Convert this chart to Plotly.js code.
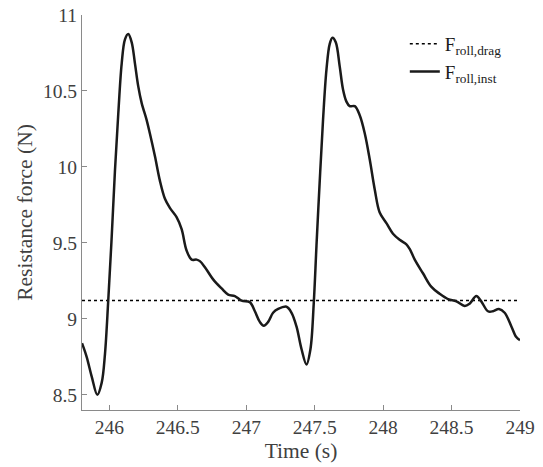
<!DOCTYPE html>
<html>
<head>
<meta charset="utf-8">
<script src="https://cdn.plot.ly/plotly-3.0.1.min.js"></script>
<style>html,body{margin:0;padding:0;background:#fff;}#chart{width:543px;height:467px;}</style>
</head>
<body>
<div id="chart"></div>
<script>
const timeS = [245.8,245.834,245.871,245.912,245.944,245.968,245.992,246.017,246.041,246.065,246.09,246.114,246.138,246.163,246.187,246.211,246.236,246.272,246.296,246.333,246.369,246.406,246.442,246.491,246.528,246.564,246.601,246.637,246.661,246.698,246.758,246.82,246.868,246.917,246.966,247.026,247.063,247.099,247.128,247.16,247.196,247.233,247.294,247.331,247.367,247.404,247.44,247.469,247.493,247.513,247.537,247.561,247.586,247.61,247.63,247.654,247.683,247.707,247.732,247.756,247.793,247.829,247.866,247.902,247.939,247.975,248.024,248.072,248.121,248.17,248.194,248.231,248.291,248.353,248.413,248.474,248.535,248.596,248.632,248.681,248.717,248.766,248.802,248.846,248.888,248.937,248.973,249.0];
const rollInst = [8.84,8.75,8.62,8.5,8.58,8.77,9.125,9.54,9.98,10.35,10.68,10.84,10.875,10.82,10.68,10.53,10.42,10.31,10.22,10.07,9.91,9.79,9.73,9.67,9.59,9.45,9.39,9.39,9.38,9.34,9.26,9.2,9.16,9.15,9.12,9.11,9.05,8.98,8.955,8.98,9.04,9.065,9.08,9.04,8.95,8.8,8.7,8.8,9.1,9.48,9.91,10.31,10.64,10.81,10.85,10.82,10.66,10.51,10.43,10.4,10.4,10.34,10.22,10.05,9.85,9.7,9.63,9.56,9.52,9.49,9.46,9.39,9.3,9.21,9.165,9.13,9.115,9.085,9.1,9.15,9.115,9.05,9.05,9.065,9.04,8.95,8.88,8.86];
const dragTime = [245.8, 249.0];
const rollDrag = [9.12, 9.12];
const xTicks = [246,246.5,247,247.5,248,248.5,249];
const yTicks = [8.5,9,9.5,10,10.5,11];

const font = '"Liberation Serif", serif';
const traces = [
  {x: dragTime, y: rollDrag, mode: 'lines', name: 'F<sub>roll,drag</sub>',
   line: {color: '#000', width: 1.5, dash: 'dot'}},
  {x: timeS, y: rollInst, mode: 'lines', name: 'F<sub>roll,inst</sub>',
   line: {color: '#1a1a1a', width: 2.5, shape: 'spline', smoothing: 1}}
];
const axisCommon = {
  showgrid: false, zeroline: false, showline: true, linecolor: '#8a8a8a', linewidth: 1,
  ticks: 'inside', ticklen: 5, tickcolor: '#8a8a8a', tickwidth: 1,
  tickfont: {family: font, size: 19.5, color: '#404040'}
};
const layout = {
  width: 543, height: 467,
  margin: {l: 82, r: 23, t: 15, b: 57},
  paper_bgcolor: '#fff', plot_bgcolor: '#fff',
  font: {family: font, color: '#404040', size: 18},
  xaxis: Object.assign({}, axisCommon, {
    range: [245.8, 249], tickvals: xTicks, ticktext: xTicks.map(String),
    title: {text: 'Time (s)', font: {family: font, size: 21.5, color: '#404040'}, standoff: 5}
  }),
  yaxis: Object.assign({}, axisCommon, {
    range: [8.4, 11], tickvals: yTicks, ticktext: yTicks.map(String),
    title: {text: 'Resistance force (N)', font: {family: font, size: 21.5, color: '#404040'}, standoff: 4}
  }),
  showlegend: true,
  legend: {x: 0.737, y: 0.975, xanchor: 'left', yanchor: 'top', bgcolor: 'rgba(0,0,0,0)',
    font: {family: font, size: 19, color: '#1a1a1a'}, tracegroupgap: 0, itemwidth: 30}
};
Plotly.newPlot('chart', traces, layout, {displayModeBar: false, staticPlot: true});
</script>
</body>
</html>
